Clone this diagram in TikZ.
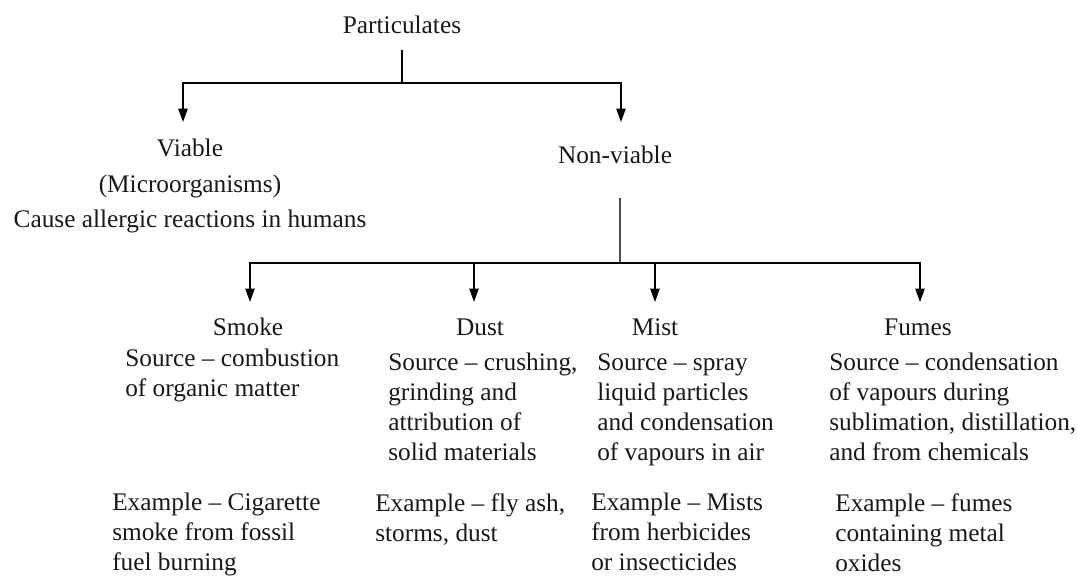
\documentclass[tikz,border=0pt]{standalone}
\usepackage{fontspec}
\setmainfont{Liberation Serif}
\usetikzlibrary{arrows.meta}

\begin{document}
\begin{tikzpicture}[x=0.75pt,y=-0.75pt,
  every node/.style={font=\fontsize{19}{22.5}\selectfont, text=black!90},
  ttl/.style={inner sep=0pt},
  txt/.style={anchor=north west, align=left, inner sep=0pt},
  ln/.style={line width=0.9pt},
  arr/.style={ln, -{Triangle[length=10pt,width=7pt]}}]
  \useasboundingbox (0,0) rectangle (1078,577);

  % Particulates
  \node[ttl] (part) at (402,25) {Particulates};
  \coordinate (j1) at (402,83);
  \coordinate (tv) at (183,122);
  \coordinate (tn) at (621,122);
  \draw[ln] ([yshift=-12pt]part.south) -- (j1);
  \draw[arr] (j1) -| (tv);
  \draw[arr] (j1) -| (tn);

  % Viable / Non-viable
  \node[ttl, anchor=north, align=center, font=\fontsize{19}{26.5}\selectfont] (viable) at (190,139)
    {Viable\\(Microorganisms)\\Cause allergic reactions in humans};
  \node[ttl] (nonv) at (615,155) {Non-viable};

  % Non-viable branches
  \coordinate (j2) at (620,263);
  \draw[ln, line width=1.4pt, black!70] ([yshift=-25pt]nonv.south -| j2) -- (j2);
  \foreach \n/\x in {a/250,b/474,c/655,d/920}
    \coordinate (t\n) at (\x,302);
  \draw[arr] (j2) -| (ta);
  \draw[arr] (j2) -| (tb);
  \draw[arr] (j2) -| (tc);
  \draw[arr] (j2) -| (td);

  % Smoke
  \node[ttl] (smoke) at (248,327) {Smoke};
  \node[txt] (smokesrc) at (125,349) {Source -- combustion\\of organic matter};
  \node[txt] (smokeex) at (112,493) {Example -- Cigarette\\smoke from fossil\\fuel burning};

  % Dust
  \node[ttl] (dust) at (480,327) {Dust};
  \node[txt] (dustsrc) at (388,353) {Source -- crushing,\\grinding and\\attribution of\\solid materials};
  \node[txt] (dustex) at (375,493) {Example -- fly ash,\\storms, dust};

  % Mist
  \node[ttl] (mist) at (655,327) {Mist};
  \node[txt] (mistsrc) at (597,353) {Source -- spray\\liquid particles\\and condensation\\of vapours in air};
  \node[txt] (mistex) at (591,493) {Example -- Mists\\from herbicides\\or insecticides};

  % Fumes
  \node[ttl] (fumes) at (918,327) {Fumes};
  \node[txt] (fumessrc) at (829,353) {Source -- condensation\\of vapours during\\sublimation, distillation,\\and from chemicals};
  \node[txt] (fumesex) at (835,493) {Example -- fumes\\containing metal\\oxides};
\end{tikzpicture}
\end{document}
